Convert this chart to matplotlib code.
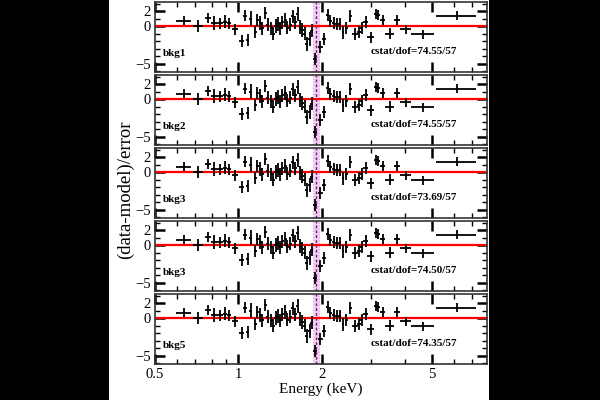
#!/usr/bin/env python

import matplotlib
matplotlib.use("Agg")
from matplotlib import pyplot as plt
from matplotlib.patches import Rectangle
from matplotlib.ticker import FixedLocator, FixedFormatter, NullFormatter

plt.rcParams["font.family"] = ["Liberation Serif", "DejaVu Serif"]

# 能量 (keV)、误差与残差
energy = [0.636, 0.716, 0.779, 0.818, 0.861, 0.897, 0.925, 0.973, 1.028, 1.057,
          1.081, 1.108, 1.150, 1.172, 1.198, 1.222, 1.249, 1.277, 1.314, 1.339,
          1.362, 1.388, 1.416, 1.443, 1.476, 1.504, 1.539, 1.569, 1.602, 1.640,
          1.671, 1.702, 1.734, 1.768, 1.808, 1.843, 1.896, 1.977, 2.032, 2.101,
          2.149, 2.209, 2.265, 2.323, 2.387, 2.448, 2.539, 2.633, 2.737, 2.784,
          2.878, 3.001, 3.145, 3.197, 3.325, 3.516, 3.747, 4.018, 4.642, 6.180]
energy_err = [0.040, 0.030, 0.019, 0.020, 0.022, 0.015, 0.015, 0.024, 0.021, 0.014,
              0.014, 0.014, 0.015, 0.015, 0.015, 0.016, 0.016, 0.016, 0.017, 0.017,
              0.017, 0.017, 0.018, 0.018, 0.018, 0.019, 0.019, 0.019, 0.020, 0.020,
              0.021, 0.021, 0.022, 0.022, 0.023, 0.023, 0.030, 0.040, 0.035, 0.028,
              0.028, 0.028, 0.028, 0.028, 0.028, 0.030, 0.040, 0.066, 0.045, 0.045,
              0.070, 0.090, 0.050, 0.050, 0.070, 0.120, 0.100, 0.170, 0.430, 1.000]
resid = [0.7, 0.0, 1.05, 0.45, 0.35, 0.6, 0.35, -0.45, -2.0, 1.4,
         -1.8, 1.0, -0.8, 0.8, 0.4, -0.3, 1.8, 0.2, -0.3, -1.0,
         0.0, 0.3, -0.3, 0.5, 0.8, -0.2, 0.2, 1.3, 0.5, 1.6,
         -0.1, -0.5, -1.0, -2.4, -1.7, -0.6, -4.4, -2.8, -1.7, 1.5,
         0.7, 0.35, 0.3, 0.3, -0.85, -0.3, 1.3, -1.0, -0.8, -0.3,
         0.6, -1.5, 1.6, 1.5, 0.8, -1.0, 0.8, -0.45, -1.1, 1.4]
resid_err = [0.6, 0.8, 0.65, 0.95, 0.75, 0.9, 0.75, 0.75, 0.8, 0.7,
             0.8, 1.0, 0.8, 0.8, 0.9, 0.9, 0.8, 0.9, 0.9, 0.9,
             0.9, 0.9, 0.9, 0.9, 0.9, 0.9, 0.9, 0.9, 0.9, 0.9,
             0.9, 0.9, 0.9, 0.9, 0.9, 0.9, 0.8, 0.8, 0.8, 0.8,
             0.8, 0.8, 0.8, 0.8, 0.8, 0.8, 0.8, 0.8, 0.8, 0.8,
             0.8, 0.7, 0.7, 0.7, 0.7, 0.7, 0.7, 0.6, 0.6, 0.6]

labels = ["bkg1", "bkg2", "bkg3", "bkg3", "bkg5"]
cstat = ["74.55/57", "74.55/57", "73.69/57", "74.50/57", "74.35/57"]

# 线特征区域
band_lo, band_hi, band_line = 1.86, 1.96, 1.905

fig = plt.figure(figsize=(6, 4), dpi=100, facecolor="black")
fig.add_artist(Rectangle((109 / 600, 0), 380 / 600, 1, transform=fig.transFigure,
                         facecolor="white", edgecolor="none", zorder=-5))

left, width = 155 / 600, 332 / 600
tops = [2, 75, 148, 221, 294]
h = 70

for i, (lab, cs) in enumerate(zip(labels, cstat)):
    ax = fig.add_axes([left, 1 - (tops[i] + h) / 400, width, h / 400])
    ax.axvspan(band_lo, band_hi, facecolor="#f6cdf6", edgecolor="#e39be3",
               linestyle=":", lw=0.8, zorder=1)
    ax.axvline(band_line, color="#5a2a5a", lw=1.0, ls=(0, (2, 1.5)), zorder=2)
    ax.axhline(0, color="red", lw=1.6, zorder=2)
    ax.errorbar(energy, resid, xerr=energy_err, yerr=resid_err, fmt="none",
                ecolor="black", elinewidth=1.3, capsize=0, zorder=3)

    ax.set_xscale("log")
    ax.set_xlim(0.5, 7.9)
    ax.set_ylim(-6.1, 3.2)

    ax.xaxis.set_major_locator(FixedLocator([0.5, 1, 2, 5]))
    ax.xaxis.set_minor_locator(FixedLocator([0.6, 0.7, 0.8, 0.9, 3, 4, 6, 7]))
    ax.xaxis.set_minor_formatter(NullFormatter())
    if i == 4:
        ax.xaxis.set_major_formatter(FixedFormatter(["0.5", "1", "2", "5"]))
        ax.set_xlabel("Energy (keV)", fontsize=11, labelpad=1)
    else:
        ax.xaxis.set_major_formatter(NullFormatter())

    ax.yaxis.set_major_locator(FixedLocator([-5, 0, 2]))
    ax.yaxis.set_minor_locator(FixedLocator(range(-6, 4)))
    ax.tick_params(which="both", direction="in", top=True, right=True, labelsize=10.5)
    ax.tick_params(which="major", length=7, width=1.8, pad=3)
    ax.tick_params(which="minor", length=3.5, width=1.0)
    for sp in ax.spines.values():
        sp.set_linewidth(1.2)
        sp.set_color("#333333")

    ax.text(0.024, 0.27, lab, transform=ax.transAxes, fontsize=8,
            fontweight="bold", ha="left", va="center")
    ax.text(0.91, 0.29, f"cstat/dof={cs}", transform=ax.transAxes, fontsize=8,
            fontweight="bold", ha="right", va="center")

fig.text(125 / 600, 1 - 190 / 400, "(data-model)/error", rotation=90,
         fontsize=13.5, ha="center", va="center")

plt.savefig("out.png", dpi=100, facecolor=fig.get_facecolor())
plt.close()
